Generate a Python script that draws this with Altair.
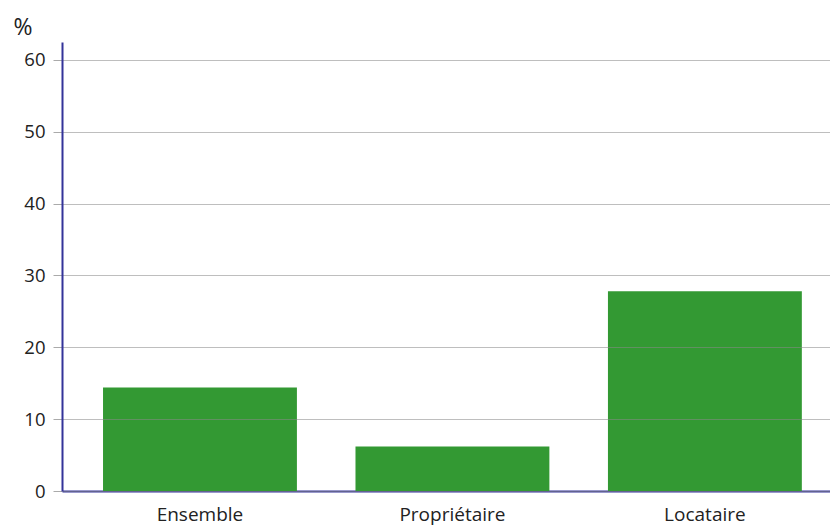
import altair as alt
import pandas as pd

categories = ["Ensemble", "Propriétaire", "Locataire"]
values = [14.4, 6.2, 27.8]

df = pd.DataFrame({"cat": categories, "val": values})

chart = alt.Chart(df).mark_bar(color="#339933").encode(
    x=alt.X("cat:N", sort=categories, title=None,
            scale=alt.Scale(paddingInner=0.232, paddingOuter=0.137, align=0.593),
            axis=alt.Axis(labelAngle=0, ticks=False, domainColor="#333399", domainWidth=2,
                          labelFontSize=19, labelColor="#222", labelPadding=14, grid=False,
                          labelFont="Open Sans")),
    y=alt.Y("val:Q", title="%",
            scale=alt.Scale(domain=[0, 62.5], nice=False),
            axis=alt.Axis(values=[0, 10, 20, 30, 40, 50, 60], domainColor="#333399", domainWidth=2,
                          tickColor="#aaaaaa", tickSize=9, labelPadding=8,
                          gridColor="#888888", gridOpacity=0.55,
                          labelFontSize=18.5, labelColor="#222", labelFont="Open Sans",
                          titleAngle=0, titleAlign="left", titleBaseline="alphabetic",
                          titleX=-49, titleY=-8, titleFontSize=23, titleFontWeight="normal",
                          titleColor="#222", titleFont="Open Sans", zindex=1)),
).properties(
    width=768, height=449,
    autosize=alt.AutoSizeParams(type="none"),
    padding={"left": 54, "top": 34, "right": 0, "bottom": 36},
).configure_view(stroke=None)

chart.save("out.html", embed_options={"renderer": "svg", "actions": False})
